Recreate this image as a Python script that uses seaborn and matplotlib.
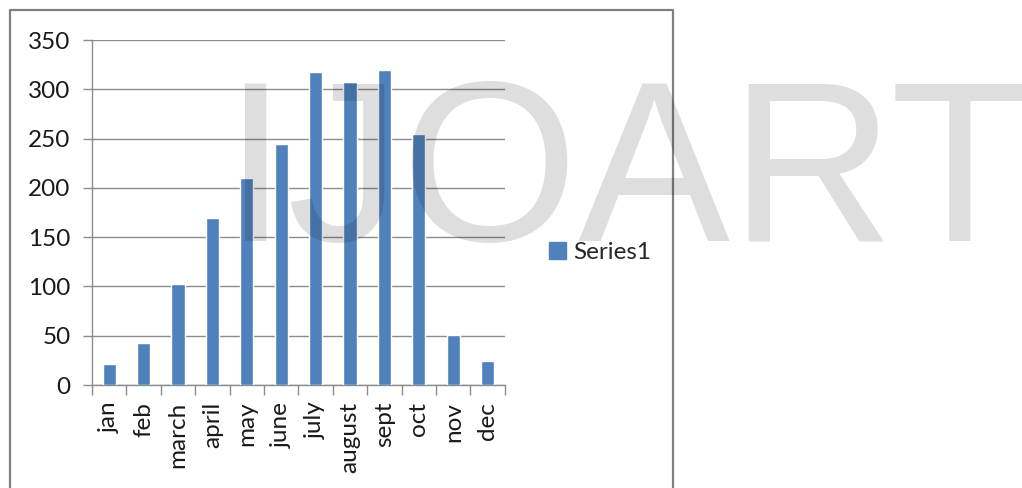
import matplotlib
matplotlib.use("Agg")
import matplotlib.pyplot as plt
import pandas as pd
import seaborn as sns
from matplotlib.patches import Rectangle
from matplotlib.lines import Line2D

# du lieu doc tu hinh
months = ['jan', 'feb', 'march', 'april', 'may', 'june', 'july',
          'august', 'sept', 'oct', 'nov', 'dec']
values = [21, 43, 102, 169, 210, 245, 318, 307, 320, 255, 51, 24]
yticks = [0, 50, 100, 150, 200, 250, 300, 350]

data = pd.DataFrame({'month': months, 'value': values})

sns.set_theme(style='white')
plt.rcParams['font.family'] = ['Lato', 'DejaVu Sans']

fig = plt.figure(figsize=(10.22, 4.88), dpi=100)
ax = fig.add_axes([0.090, 0.211, 0.404, 0.707])

sns.barplot(x='month', y='value', data=data, color='#4F81BD', saturation=1,
            width=0.38, ax=ax, zorder=3)

ax.set_ylim(0, 350)
ax.set_xlim(-0.5, len(months) - 0.5)
ax.set_yticks(yticks)
ax.set_xlabel('')
ax.set_ylabel('')
ax.grid(axis='y', color='#8c8c8c', linewidth=1.0, zorder=0)
for side in ['top', 'right']:
    ax.spines[side].set_visible(False)
for side in ['left', 'bottom']:
    ax.spines[side].set_color('#8c8c8c')
    ax.spines[side].set_linewidth(1.0)

ax.tick_params(axis='y', length=6.5, width=1.0, color='#8c8c8c', pad=9,
               labelsize=17.5, labelcolor='#1a1a1a', left=True)
ax.tick_params(axis='x', which='major', length=0, pad=12,
               labelsize=17.5, labelcolor='#1a1a1a', labelrotation=90)
ax.set_xticks([i - 0.5 for i in range(len(months) + 1)], minor=True)
ax.tick_params(axis='x', which='minor', length=7, width=1.0,
               color='#8c8c8c', bottom=True)

# chu giai
handle = Rectangle((0, 0), 1, 1, color='#4F81BD')
fig.legend([handle], ['Series1'], loc='center left',
           bbox_to_anchor=(0.516, 0.482), frameon=False, fontsize=17.5,
           handlelength=0.7, handleheight=0.7, handletextpad=0.3)

# khung vien
fig.add_artist(Line2D([0.0098, 0.0098, 0.659, 0.659], [0.0, 0.980, 0.980, 0.0],
                      transform=fig.transFigure, color='#808080', linewidth=1.6))

# watermark
fig.text(0.219, 0.506, 'IJOART', fontsize=164, color='black', alpha=0.13,
         family=['Liberation Sans', 'DejaVu Sans'], ha='left', va='baseline',
         zorder=10)

fig.savefig('out.png', dpi=100)
